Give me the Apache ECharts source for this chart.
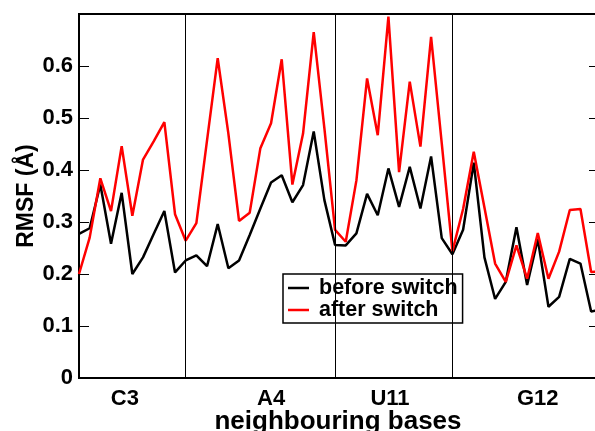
<!DOCTYPE html>
<html>
<head>
<meta charset="utf-8">
<script src="https://cdn.jsdelivr.net/npm/echarts@6/dist/echarts.min.js"></script>
<style>
html, body { margin: 0; padding: 0; background: #fff; }
#main { width: 595px; height: 431px; }
</style>
</head>
<body>
<div id="main"></div>
<script>
// RMSF per atom, before / after the switch
var before_switch = [0.277, 0.288, 0.372, 0.258, 0.356, 0.200, 0.232, 0.277, 0.321, 0.203,
	0.226, 0.236, 0.215, 0.296, 0.211, 0.226, 0.275, 0.326, 0.376, 0.390,
	0.338, 0.371, 0.474, 0.342, 0.256, 0.255, 0.278, 0.354, 0.313, 0.403,
	0.329, 0.406, 0.326, 0.426, 0.269, 0.238, 0.285, 0.414, 0.232, 0.152,
	0.185, 0.290, 0.179, 0.267, 0.137, 0.156, 0.229, 0.220, 0.128, 0.132];
var after_switch = [0.200, 0.270, 0.384, 0.321, 0.446, 0.312, 0.420, 0.455, 0.492, 0.315,
	0.264, 0.298, 0.457, 0.615, 0.470, 0.302, 0.318, 0.442, 0.490, 0.613,
	0.372, 0.470, 0.665, 0.480, 0.285, 0.262, 0.380, 0.576, 0.467, 0.695,
	0.396, 0.570, 0.445, 0.656, 0.451, 0.244, 0.325, 0.435, 0.328, 0.220,
	0.185, 0.255, 0.191, 0.279, 0.191, 0.243, 0.323, 0.325, 0.204, 0.205];
// base names and where they sit on the x axis
var base_names = ['C3', 'A4', 'U11', 'G12'];
var base_pos = [4.3, 18, 29.15, 43];
// boundaries between bases
var separators = [10, 24, 35];
var y_ticks = [0, 0.1, 0.2, 0.3, 0.4, 0.5, 0.6];

function to_points(values) {
	var pts = [];
	for (var i = 0; i < values.length; i++) {
		pts.push([i, values[i]]);
	}
	return pts;
}

var font = '"Liberation Sans", Arial, sans-serif';
var myChart = echarts.init(document.getElementById('main'));

var option = {
	animation : false,
	grid : {
		left : 79,
		right : -2,
		top : 14,
		bottom : 53,
		outerBoundsMode : 'none',
		containLabel : false,
		show : true,
		borderColor : '#000',
		borderWidth : 2
	},
	legend : {
		orient : 'vertical',
		left : 283,
		top : 274,
		data : ['before switch', 'after switch'],
		icon : 'rect',
		backgroundColor : '#fff',
		borderColor : '#000',
		borderWidth : 1.5,
		borderRadius : 0,
		padding : [3, 5, 2, 5],
		itemGap : 0,
		itemWidth : 21,
		itemHeight : 2.5,
		textStyle : {
			fontFamily : font,
			fontWeight : 'bold',
			fontSize : 21.5,
			color : '#000',
			lineHeight : 20,
			padding : [0, 0, 0, 5]
		}
	},
	xAxis : {
		type : 'value',
		min : 0,
		max : 48.55,
		name : 'neighbouring bases',
		nameLocation : 'middle',
		nameGap : 31,
		nameMoveOverlap : false,
		nameTextStyle : {
			fontFamily : font,
			fontWeight : 'bold',
			fontSize : 26,
			color : '#000'
		},
		axisLine : { lineStyle : { color : '#000', width : 2 } },
		axisTick : { show : false },
		splitLine : { show : false },
		axisLabel : {
			customValues : base_pos,
			margin : 10,
			fontFamily : font,
			fontWeight : 'bold',
			fontSize : 22,
			color : '#000',
			formatter : function(v) {
				for (var i = 0; i < base_pos.length; i++) {
					if (Math.abs(base_pos[i] - v) < 0.01) return base_names[i];
				}
				return '';
			}
		}
	},
	yAxis : [{
		type : 'value',
		min : 0,
		max : 0.7,
		interval : 0.1,
		name : 'RMSF (Å)',
		nameLocation : 'middle',
		nameRotate : 90,
		nameGap : 41,
		nameMoveOverlap : false,
		nameTextStyle : {
			fontFamily : font,
			fontWeight : 'bold',
			fontSize : 23,
			color : '#000'
		},
		axisLine : { show : true, lineStyle : { color : '#000', width : 2 } },
		axisTick : { show : true, inside : true, length : 10, lineStyle : { color : '#000', width : 1 } },
		splitLine : { show : false },
		axisLabel : {
			customValues : y_ticks,
			margin : 6,
			fontFamily : font,
			fontWeight : 'bold',
			fontSize : 22,
			color : '#000',
			formatter : function(v) {
				return v === 0 ? '0' : v.toFixed(1);
			}
		}
	}, {
		type : 'value',
		position : 'right',
		min : 0,
		max : 0.7,
		interval : 0.1,
		axisLine : { show : true, lineStyle : { color : '#000', width : 2 } },
		axisTick : { show : true, inside : true, length : 8, lineStyle : { color : '#000', width : 1 } },
		axisLabel : { show : false },
		splitLine : { show : false }
	}],
	series : [{
		name : 'before switch',
		type : 'line',
		symbol : 'none',
		color : '#000',
		lineStyle : { color : '#000', width : 2.5 },
		data : to_points(before_switch),
		markLine : {
			silent : true,
			symbol : 'none',
			label : { show : false },
			lineStyle : { color : '#000', width : 1, type : 'solid' },
			data : separators.map(function(s) { return { xAxis : s }; })
		}
	}, {
		name : 'after switch',
		type : 'line',
		symbol : 'none',
		color : '#ff0000',
		lineStyle : { color : '#ff0000', width : 2.5 },
		data : to_points(after_switch)
	}]
};

myChart.setOption(option);
</script>
</body>
</html>
